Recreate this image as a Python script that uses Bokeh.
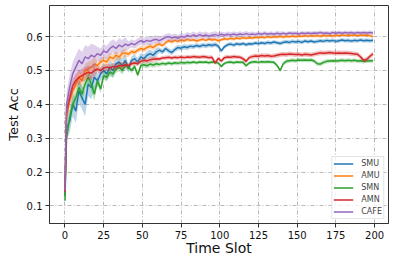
import numpy as np
from bokeh.plotting import figure
from bokeh.models import Range1d, FixedTicker, Legend, LegendItem
from bokeh.embed import file_html
from bokeh.resources import INLINE

# ---- data ----
time_slot = [0, 1] + list(range(3, 200, 2))

smu = [0.13, 0.33, 0.35, 0.40, 0.38, 0.44, 0.42, 0.40, 0.46, 0.45,
       0.48, 0.47, 0.49, 0.50, 0.49, 0.51, 0.50, 0.52, 0.525, 0.515,
       0.53, 0.505, 0.53, 0.535, 0.525, 0.54, 0.535, 0.545, 0.55, 0.545,
       0.555, 0.56, 0.555, 0.565, 0.558, 0.553, 0.562, 0.568, 0.566, 0.570,
       0.568, 0.572, 0.570, 0.574, 0.571, 0.575, 0.573, 0.576, 0.574, 0.577,
       0.572, 0.558, 0.570, 0.576, 0.578, 0.575, 0.579, 0.577, 0.580, 0.576,
       0.579, 0.578, 0.581, 0.579, 0.582, 0.580, 0.583, 0.581, 0.584, 0.582,
       0.580, 0.583, 0.585, 0.583, 0.586, 0.584, 0.586, 0.583, 0.587, 0.585,
       0.587, 0.584, 0.586, 0.588, 0.586, 0.589, 0.587, 0.589, 0.586, 0.588,
       0.590, 0.588, 0.589, 0.587, 0.589, 0.588, 0.590, 0.588, 0.589, 0.588,
       0.589]

amu = [0.14, 0.36, 0.41, 0.44, 0.46, 0.48, 0.47, 0.50, 0.505, 0.51,
       0.52, 0.515, 0.525, 0.53, 0.525, 0.54, 0.535, 0.545, 0.54, 0.55,
       0.552, 0.548, 0.556, 0.553, 0.56, 0.565, 0.562, 0.568, 0.572, 0.568,
       0.575, 0.578, 0.574, 0.582, 0.588, 0.585, 0.589, 0.586, 0.590, 0.588,
       0.592, 0.589, 0.591, 0.587, 0.590, 0.592, 0.589, 0.593, 0.590, 0.592,
       0.588, 0.591, 0.594, 0.592, 0.595, 0.593, 0.596, 0.594, 0.597, 0.595,
       0.597, 0.596, 0.598, 0.597, 0.599, 0.597, 0.600, 0.598, 0.600, 0.599,
       0.601, 0.599, 0.601, 0.600, 0.602, 0.600, 0.602, 0.601, 0.603, 0.601,
       0.603, 0.602, 0.603, 0.601, 0.604, 0.602, 0.604, 0.602, 0.604, 0.603,
       0.605, 0.603, 0.605, 0.604, 0.605, 0.603, 0.605, 0.604, 0.605, 0.603,
       0.600]

smn = [0.115, 0.30, 0.36, 0.40, 0.42, 0.45, 0.43, 0.46, 0.48, 0.46,
       0.43, 0.47, 0.445, 0.485, 0.48, 0.495, 0.49, 0.505, 0.51, 0.50,
       0.515, 0.51, 0.50, 0.512, 0.487, 0.515, 0.517, 0.514, 0.519, 0.516,
       0.52, 0.518, 0.521, 0.519, 0.522, 0.520, 0.523, 0.521, 0.524, 0.522,
       0.524, 0.523, 0.525, 0.523, 0.525, 0.524, 0.525, 0.523, 0.525, 0.524,
       0.522, 0.512, 0.521, 0.524, 0.525, 0.523, 0.525, 0.524, 0.524, 0.514,
       0.522, 0.525, 0.526, 0.524, 0.526, 0.525, 0.526, 0.525, 0.524, 0.515,
       0.500, 0.520, 0.527, 0.529, 0.530, 0.529, 0.531, 0.530, 0.531, 0.530,
       0.531, 0.528, 0.520, 0.519, 0.524, 0.527, 0.528, 0.529, 0.528, 0.529,
       0.530, 0.529, 0.530, 0.529, 0.530, 0.528, 0.529, 0.527, 0.528, 0.529,
       0.529]

amn = [0.14, 0.38, 0.42, 0.455, 0.47, 0.48, 0.485, 0.49, 0.495, 0.492,
       0.50, 0.505, 0.50, 0.507, 0.51, 0.508, 0.512, 0.51, 0.515, 0.513,
       0.517, 0.515, 0.52, 0.522, 0.52, 0.527, 0.53, 0.528, 0.532, 0.533,
       0.535, 0.534, 0.537, 0.538, 0.539, 0.537, 0.539, 0.538, 0.540, 0.538,
       0.540, 0.539, 0.541, 0.540, 0.539, 0.541, 0.540, 0.538, 0.539, 0.522,
       0.536, 0.528, 0.538, 0.540, 0.539, 0.541, 0.540, 0.539, 0.535, 0.527,
       0.538, 0.541, 0.543, 0.542, 0.544, 0.543, 0.544, 0.542, 0.543, 0.545,
       0.547, 0.548, 0.547, 0.549, 0.548, 0.547, 0.548, 0.546, 0.548, 0.547,
       0.546, 0.548, 0.550, 0.552, 0.551, 0.552, 0.553, 0.552, 0.551, 0.552,
       0.551, 0.552, 0.551, 0.550, 0.549, 0.548, 0.540, 0.530, 0.533, 0.542,
       0.549]

cafe = [0.145, 0.40, 0.45, 0.49, 0.51, 0.53, 0.52, 0.54, 0.535, 0.545,
        0.54, 0.55, 0.545, 0.558, 0.553, 0.565, 0.572, 0.565, 0.575, 0.57,
        0.578, 0.574, 0.58, 0.576, 0.583, 0.588, 0.584, 0.589, 0.586, 0.590,
        0.592, 0.588, 0.593, 0.598, 0.600, 0.596, 0.599, 0.595, 0.601, 0.598,
        0.604, 0.600, 0.605, 0.601, 0.606, 0.602, 0.605, 0.601, 0.604, 0.606,
        0.603, 0.607, 0.604, 0.607, 0.605, 0.608, 0.605, 0.608, 0.606, 0.609,
        0.606, 0.608, 0.606, 0.609, 0.607, 0.610, 0.607, 0.609, 0.607, 0.610,
        0.608, 0.610, 0.608, 0.611, 0.609, 0.610, 0.608, 0.611, 0.609, 0.611,
        0.609, 0.611, 0.610, 0.612, 0.610, 0.611, 0.609, 0.612, 0.610, 0.612,
        0.610, 0.612, 0.611, 0.612, 0.610, 0.612, 0.611, 0.612, 0.611, 0.612,
        0.611]

# band half-widths, one per 20-slot block
smu_spread = [0.035, 0.02, 0.012, 0.008, 0.007, 0.006, 0.006, 0.006, 0.006, 0.006]
amu_spread = [0.02, 0.012, 0.008, 0.006, 0.005, 0.005, 0.005, 0.005, 0.005, 0.005]
smn_spread = [0.02, 0.012, 0.008, 0.006, 0.005, 0.005, 0.005, 0.006, 0.006, 0.006]
amn_spread = [0.02, 0.01, 0.007, 0.006, 0.006, 0.006, 0.007, 0.007, 0.007, 0.007]
cafe_spread = [0.035, 0.02, 0.012, 0.01, 0.01, 0.008, 0.007, 0.006, 0.006, 0.006]

series_names = ["SMU", "AMU", "SMN", "AMN", "CAFE"]
series_values = [smu, amu, smn, amn, cafe]
series_spread = [smu_spread, amu_spread, smn_spread, amn_spread, cafe_spread]
colors = ["#1f77b4", "#ff7f0e", "#2ca02c", "#d62728", "#9467bd"]

x_ticks = [0, 25, 50, 75, 100, 125, 150, 175, 200]
y_ticks = [0.1, 0.2, 0.3, 0.4, 0.5, 0.6]

for v in series_values:
    assert len(v) == len(time_slot), len(v)

# ---- figure ----
p = figure(width=395, height=260, output_backend="svg", toolbar_location=None,
           x_range=Range1d(-10, 209), y_range=Range1d(0.048, 0.692),
           min_border_left=49, min_border_right=7, min_border_top=5, min_border_bottom=37)

t = np.array(time_slot)
block = np.minimum(t // 20, 9)
items = []
for name, vals, spread, c in zip(series_names, series_values, series_spread, colors):
    v = np.array(vals)
    s = np.array(spread)[block]
    p.varea(x=t, y1=v - s, y2=v + s, fill_color=c, fill_alpha=0.3)
    r = p.line(t, v, line_color=c, line_width=1.5)
    items.append(LegendItem(label=name, renderers=[r]))

legend = Legend(items=items, location="bottom_right", margin=4, padding=1, spacing=1,
                label_height=11, glyph_height=11, glyph_width=20, label_standoff=8,
                label_text_font="DejaVu Sans", label_text_font_size="8px",
                label_text_line_height=1.0,
                border_line_color="#cccccc", background_fill_alpha=0.8)
p.add_layout(legend)

p.xaxis.ticker = FixedTicker(ticks=x_ticks)
p.yaxis.ticker = FixedTicker(ticks=y_ticks)
for ax in (p.xaxis, p.yaxis):
    ax.major_label_text_font = "DejaVu Sans"
    ax.major_label_text_font_size = "10px"
    ax.major_label_text_color = "#111111"
    ax.major_tick_in = 0
    ax.major_tick_out = 4
    ax.minor_tick_line_color = None
    ax.major_label_standoff = 3
    ax.axis_line_color = "#333333"
    ax.major_tick_line_color = "#333333"
    ax.axis_label_text_font = "DejaVu Sans"
    ax.axis_label_text_font_style = "normal"
    ax.axis_label_text_color = "#111111"
p.xaxis.axis_label = "Time Slot"
p.yaxis.axis_label = "Test Acc"
p.xaxis.axis_label_text_font_size = "14px"
p.yaxis.axis_label_text_font_size = "13px"
p.xaxis.axis_label_standoff = -2
p.yaxis.axis_label_standoff = 3

p.outline_line_color = "#333333"
p.outline_line_width = 1
for g in (p.xgrid, p.ygrid):
    g.grid_line_color = "#b8b8b8"
    g.grid_line_dash = "4 2 1 2"
    g.grid_line_width = 1

open("out.html", "w").write(file_html(p, INLINE))
